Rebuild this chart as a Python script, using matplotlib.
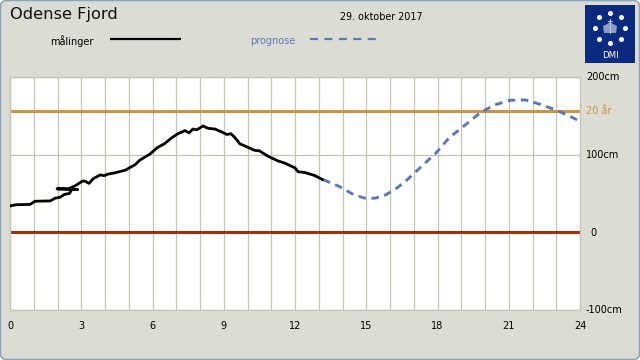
import matplotlib
matplotlib.use("Agg")
import matplotlib.pyplot as plt
import numpy as np
from matplotlib.patches import FancyBboxPatch, Polygon, Rectangle

# hours and cm, measurements fold back at 3 because of the clock change
obs_hours = [0, 0.25, 0.85, 1.05, 1.7, 1.9, 2.1, 2.3, 2.5, 2.6, 2.85, 1.98, 2.45, 2.75, 3.05, 3.15,
             3.33, 3.5, 3.8, 3.96, 4.13, 4.4, 4.85, 5.26, 5.47, 5.9, 6.2, 6.5, 6.8, 7.07, 7.37,
             7.54, 7.7, 7.87, 8.13, 8.33, 8.63, 8.93, 9.13, 9.3, 9.47, 9.68, 9.98, 10.3, 10.5,
             10.86, 11.28, 11.58, 12, 12.13, 12.42, 12.84, 13.15]
obs_level = [34, 35.5, 36, 40, 40.5, 44, 45, 49, 50, 55, 55, 56, 56, 60, 66, 66,
             63, 69, 74, 73, 75, 76.5, 80, 87, 93, 101, 109, 114, 121.5, 127, 131,
             128, 133, 132, 137, 134, 133, 129, 126, 127, 122, 114, 110, 105.5, 105,
             98, 92, 89, 83, 78, 77, 73, 68]
fc_hours = [13.18, 13.9, 14.5, 14.95, 15.37, 15.8, 16.2, 16.63, 17.26, 17.9, 18.5, 19.16,
            19.8, 20.4, 21.05, 21.7, 22.3, 22.95, 23.6, 24]
fc_level = [68, 58.5, 48, 44, 44, 48, 55, 65, 83, 101, 122, 138,
            154, 164, 170, 170.5, 165, 158, 149, 143]
x_ticks = [0, 3, 6, 9, 12, 15, 18, 21, 24]
y_ticks = [200, 100, 0, -100]
y_labels = ["200cm", "100cm", "0", "-100cm"]
y_label_x = [586, 586, 590, 586]
level_20yr = 156

W, H = 640, 360
BG = "#dcdcd4"
GRID = "#c4c4b4"
BLUE = "#5b78b8"
ORANGE = "#cc9640"
RED = "#a03010"
NAVY = "#0a2a80"
CROWN = "#b8c4e0"

fig = plt.figure(figsize=(W / 100, H / 100), dpi=100, facecolor="white")

# page background in pixel coords
bg = fig.add_axes([0, 0, 1, 1])
bg.set_xlim(0, W)
bg.set_ylim(H, 0)
bg.axis("off")
bg.add_patch(FancyBboxPatch((0.5, 0.5), W - 1, H - 1, boxstyle="round,pad=0,rounding_size=6",
                            fc=BG, ec="#8ca4c0", lw=1.1))

bg.text(10, 15, "Odense Fjord", fontsize=11.7, color="#111111", va="center", ha="left", fontweight="medium")
bg.text(340, 16.5, "29. oktober 2017", fontsize=6.9, color="black", va="center", ha="left")
bg.text(50, 41, "målinger", fontsize=7, color="black", va="center", ha="left")
bg.text(250, 41, "prognose", fontsize=7, color=BLUE, va="center", ha="left")
bg.plot([110, 181], [38.5, 38.5], color="black", lw=1.6, solid_capstyle="butt")
bg.plot([310, 376], [38.5, 38.5], color=BLUE, lw=1.6, dashes=(3.6, 2.9))

# logo
bg.add_patch(Rectangle((585, 5), 50, 58, fc=NAVY, ec="none"))
angles = np.deg2rad(np.arange(0, 360, 45))
bg.scatter(610 + 15 * np.cos(angles), 28 + 15 * np.sin(angles), s=13, color="white", lw=0)
bg.add_patch(Polygon([(604, 33), (603, 26), (607, 24), (610, 22), (613, 24), (617, 26), (616, 33)],
                     fc=CROWN, ec="none", alpha=0.75))
bg.plot([610, 610], [19, 33], color=CROWN, lw=0.7)
bg.plot([608, 612], [20.5, 20.5], color=CROWN, lw=0.7)
bg.text(610, 55.5, "DMI", fontsize=6.2, color="white", ha="center", va="center")

ax = fig.add_axes([10 / W, 1 - 310 / H, 570 / W, 233 / H])
ax.set_xlim(0, 24)
ax.set_ylim(-100, 200)
ax.set_xticks(range(0, 25))
ax.set_yticks(y_ticks)
ax.grid(True, color=GRID, lw=0.9)
ax.set_axisbelow(True)
ax.tick_params(length=0, labelleft=False, labelbottom=False)
for s in ax.spines.values():
    s.set_color(GRID)
    s.set_linewidth(0.9)

ax.axhline(level_20yr, color=ORANGE, lw=2.2, zorder=2)
ax.axhline(0, color=RED, lw=2.2, zorder=2)
ax.plot(fc_hours, fc_level, color=BLUE, lw=2.1, dashes=(2.6, 1.9), zorder=3)
ax.plot(obs_hours, obs_level, color="black", lw=2.0, zorder=4, solid_joinstyle="round")

for h in x_ticks:
    ax.text(h, -0.069, str(h), transform=ax.get_xaxis_transform(), fontsize=7, ha="center", va="center",
            color="black", clip_on=False)
for v, lab, px in zip(y_ticks, y_labels, y_label_x):
    bg.text(px, 232.5 - v * 0.7767, lab, fontsize=7, ha="left", va="center", color="black")
bg.text(586, 111.5, "20 år", fontsize=7, ha="left", va="center", color=ORANGE)

fig.savefig("out.png", dpi=100, facecolor="white")
